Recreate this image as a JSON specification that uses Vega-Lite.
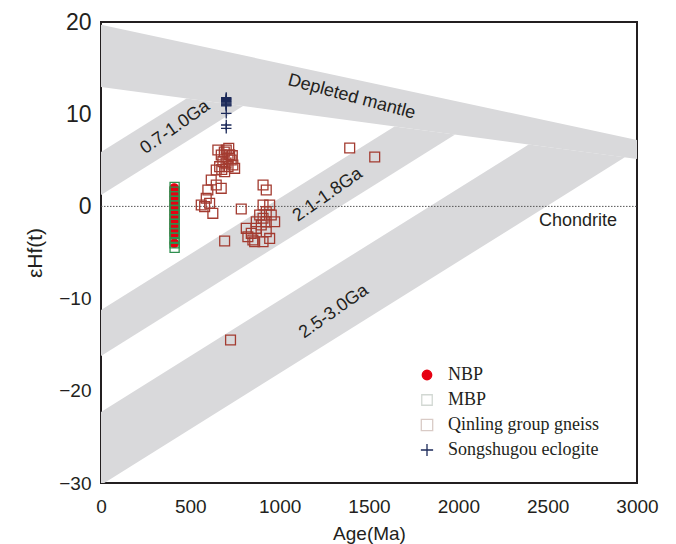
{
  "$schema": "https://vega.github.io/schema/vega-lite/v6.json",
  "width": 536,
  "height": 461,
  "autosize": {"type": "none"},
  "padding": {"left": 101, "top": 22, "right": 39, "bottom": 61},
  "background": "white",
  "config": {
    "view": {"stroke": "#231f20", "strokeWidth": 2},
    "font": "Liberation Sans",
    "axis": {"domain": false, "ticks": false, "tickSize": 0, "grid": false, "labelColor": "#231f20", "titleColor": "#231f20", "labelFont": "Liberation Sans", "titleFont": "Liberation Sans", "titleFontWeight": "normal"},
    "legend": {"orient": "none", "legendX": 317, "legendY": 344, "labelFont": "Liberation Serif", "labelFontSize": 18, "labelColor": "#231f20", "rowPadding": 7, "labelOffset": 12, "padding": 0, "symbolStrokeWidth": 1.3}
  },
  "datasets": {
    "bands": [
      {"band": "DM", "age": 0, "eps": 19.7, "eps2": 12.95},
      {"band": "DM", "age": 3000, "eps": 7.2, "eps2": 5.14},
      {"band": "B1", "age": 0, "eps": 5.9, "eps2": 1.24},
      {"band": "B1", "age": 479, "eps": 11.7, "eps2": 7.05},
      {"band": "B1", "age": 795, "eps": 10.88, "eps2": 10.88},
      {"band": "B2", "age": 0, "eps": -11.24, "eps2": -16.23},
      {"band": "B2", "age": 1643, "eps": 8.67, "eps2": 3.68},
      {"band": "B2", "age": 1982, "eps": 7.79, "eps2": 7.79},
      {"band": "B3", "age": 0, "eps": -22.3, "eps2": -30.22},
      {"band": "B3", "age": 2394, "eps": 6.72, "eps2": -1.2},
      {"band": "B3", "age": 2932, "eps": 5.32, "eps2": 5.32}
    ],
    "chondrite": [
      {"age": 0, "eps": 0},
      {"age": 3000, "eps": 0}
    ],
    "xticks": [
      {"age": 500}, {"age": 1000}, {"age": 1500}, {"age": 2000}, {"age": 2500}
    ],
    "yticks": [
      {"eps": -20}, {"eps": -10}, {"eps": 10}
    ],
    "labels": [
      {"label": "Depleted mantle", "grp": "dm", "age": 1403, "eps": 11.87},
      {"label": "0.7-1.0Ga", "grp": "band", "age": 415, "eps": 8.56},
      {"label": "2.1-1.8Ga", "grp": "band", "age": 1269, "eps": 1.24},
      {"label": "2.5-3.0Ga", "grp": "band", "age": 1303, "eps": -11.42},
      {"label": "Chondrite", "grp": "flat", "age": 2670, "eps": -1.58}
    ],
    "points": [
      {"group": "Qinling group gneiss", "age": 1392, "eps": 6.33},
      {"group": "Qinling group gneiss", "age": 1532, "eps": 5.36},
      {"group": "Qinling group gneiss", "age": 654, "eps": 6.12},
      {"group": "Qinling group gneiss", "age": 701, "eps": 6.12},
      {"group": "Qinling group gneiss", "age": 715, "eps": 6.3},
      {"group": "Qinling group gneiss", "age": 690, "eps": 5.9},
      {"group": "Qinling group gneiss", "age": 673, "eps": 5.57},
      {"group": "Qinling group gneiss", "age": 720, "eps": 5.6},
      {"group": "Qinling group gneiss", "age": 735, "eps": 5.5},
      {"group": "Qinling group gneiss", "age": 711, "eps": 5.21},
      {"group": "Qinling group gneiss", "age": 729, "eps": 5.03},
      {"group": "Qinling group gneiss", "age": 682, "eps": 4.85},
      {"group": "Qinling group gneiss", "age": 700, "eps": 4.7},
      {"group": "Qinling group gneiss", "age": 738, "eps": 4.49},
      {"group": "Qinling group gneiss", "age": 664, "eps": 4.31},
      {"group": "Qinling group gneiss", "age": 711, "eps": 4.31},
      {"group": "Qinling group gneiss", "age": 748, "eps": 4.13},
      {"group": "Qinling group gneiss", "age": 676, "eps": 4.0},
      {"group": "Qinling group gneiss", "age": 645, "eps": 3.95},
      {"group": "Qinling group gneiss", "age": 692, "eps": 3.76},
      {"group": "Qinling group gneiss", "age": 617, "eps": 2.86},
      {"group": "Qinling group gneiss", "age": 645, "eps": 2.32},
      {"group": "Qinling group gneiss", "age": 673, "eps": 1.96},
      {"group": "Qinling group gneiss", "age": 598, "eps": 1.78},
      {"group": "Qinling group gneiss", "age": 589, "eps": 0.88},
      {"group": "Qinling group gneiss", "age": 608, "eps": 0.34},
      {"group": "Qinling group gneiss", "age": 561, "eps": 0.15},
      {"group": "Qinling group gneiss", "age": 580, "eps": -0.03},
      {"group": "Qinling group gneiss", "age": 626, "eps": -0.75},
      {"group": "Qinling group gneiss", "age": 785, "eps": -0.28},
      {"group": "Qinling group gneiss", "age": 692, "eps": -3.75},
      {"group": "Qinling group gneiss", "age": 907, "eps": 2.32},
      {"group": "Qinling group gneiss", "age": 925, "eps": 1.78},
      {"group": "Qinling group gneiss", "age": 907, "eps": 0.15},
      {"group": "Qinling group gneiss", "age": 944, "eps": 0.15},
      {"group": "Qinling group gneiss", "age": 925, "eps": -0.57},
      {"group": "Qinling group gneiss", "age": 888, "eps": -0.93},
      {"group": "Qinling group gneiss", "age": 953, "eps": -0.93},
      {"group": "Qinling group gneiss", "age": 907, "eps": -1.29},
      {"group": "Qinling group gneiss", "age": 869, "eps": -1.66},
      {"group": "Qinling group gneiss", "age": 925, "eps": -1.66},
      {"group": "Qinling group gneiss", "age": 972, "eps": -1.66},
      {"group": "Qinling group gneiss", "age": 897, "eps": -2.02},
      {"group": "Qinling group gneiss", "age": 869, "eps": -2.38},
      {"group": "Qinling group gneiss", "age": 813, "eps": -2.38},
      {"group": "Qinling group gneiss", "age": 925, "eps": -2.74},
      {"group": "Qinling group gneiss", "age": 841, "eps": -2.92},
      {"group": "Qinling group gneiss", "age": 822, "eps": -3.29},
      {"group": "Qinling group gneiss", "age": 944, "eps": -3.47},
      {"group": "Qinling group gneiss", "age": 850, "eps": -3.65},
      {"group": "Qinling group gneiss", "age": 860, "eps": -3.83},
      {"group": "Qinling group gneiss", "age": 907, "eps": -3.83},
      {"group": "Qinling group gneiss", "age": 725, "eps": -14.49},
      {"group": "NBP", "age": 410, "eps": 2.0},
      {"group": "NBP", "age": 410, "eps": 1.7},
      {"group": "NBP", "age": 410, "eps": 1.4},
      {"group": "NBP", "age": 410, "eps": 1.1},
      {"group": "NBP", "age": 410, "eps": 0.8},
      {"group": "NBP", "age": 410, "eps": 0.5},
      {"group": "NBP", "age": 410, "eps": 0.2},
      {"group": "NBP", "age": 410, "eps": -0.1},
      {"group": "NBP", "age": 410, "eps": -0.4},
      {"group": "NBP", "age": 410, "eps": -0.7},
      {"group": "NBP", "age": 410, "eps": -1.0},
      {"group": "NBP", "age": 410, "eps": -1.3},
      {"group": "NBP", "age": 410, "eps": -1.6},
      {"group": "NBP", "age": 410, "eps": -1.9},
      {"group": "NBP", "age": 410, "eps": -2.2},
      {"group": "NBP", "age": 410, "eps": -2.5},
      {"group": "NBP", "age": 410, "eps": -2.8},
      {"group": "NBP", "age": 410, "eps": -3.1},
      {"group": "NBP", "age": 410, "eps": -4.0},
      {"group": "MBP", "age": 412, "eps": 2.1},
      {"group": "MBP", "age": 412, "eps": 1.6},
      {"group": "MBP", "age": 412, "eps": 1.1},
      {"group": "MBP", "age": 412, "eps": 0.6},
      {"group": "MBP", "age": 412, "eps": 0.1},
      {"group": "MBP", "age": 412, "eps": -0.4},
      {"group": "MBP", "age": 412, "eps": -0.9},
      {"group": "MBP", "age": 412, "eps": -1.4},
      {"group": "MBP", "age": 412, "eps": -1.9},
      {"group": "MBP", "age": 412, "eps": -2.4},
      {"group": "MBP", "age": 412, "eps": -2.9},
      {"group": "MBP", "age": 412, "eps": -3.4},
      {"group": "MBP", "age": 412, "eps": -4.0},
      {"group": "MBP", "age": 412, "eps": -4.5},
      {"group": "Songshugou eclogite", "age": 701, "eps": 11.8},
      {"group": "Songshugou eclogite", "age": 701, "eps": 11.7},
      {"group": "Songshugou eclogite", "age": 701, "eps": 11.6},
      {"group": "Songshugou eclogite", "age": 701, "eps": 11.5},
      {"group": "Songshugou eclogite", "age": 701, "eps": 11.4},
      {"group": "Songshugou eclogite", "age": 701, "eps": 11.3},
      {"group": "Songshugou eclogite", "age": 701, "eps": 11.2},
      {"group": "Songshugou eclogite", "age": 701, "eps": 11.1},
      {"group": "Songshugou eclogite", "age": 701, "eps": 11.0},
      {"group": "Songshugou eclogite", "age": 701, "eps": 10.9},
      {"group": "Songshugou eclogite", "age": 701, "eps": 10.1},
      {"group": "Songshugou eclogite", "age": 701, "eps": 8.83},
      {"group": "Songshugou eclogite", "age": 701, "eps": 8.47}
    ]
  },
  "encoding": {
    "x": {
      "field": "age", "type": "quantitative",
      "scale": {"domain": [0, 3000], "nice": false, "zero": false},
      "axis": {"title": "Age(Ma)", "values": [0, 500, 1000, 1500, 2000, 2500, 3000], "format": "d", "labelFontSize": 19, "titleFontSize": 19, "labelPadding": 14, "titlePadding": 8, "labelFlush": false}
    },
    "y": {
      "field": "eps", "type": "quantitative",
      "scale": {"domain": [-30, 20], "nice": false, "zero": false},
      "axis": {"title": "εHf(t)", "values": [-30, -20, -10, 0, 10, 20], "format": "d", "labelFontSize": {"condition": {"test": "datum.value >= 0", "value": 23}, "value": 19}, "titleFontSize": 21, "labelPadding": 10, "titlePadding": 13, "labelFlush": false}
    }
  },
  "layer": [
    {
      "data": {"name": "bands"},
      "mark": {"type": "area", "clip": true, "color": "#d9d9db", "opacity": 1},
      "encoding": {"y2": {"field": "eps2"}, "detail": {"field": "band", "type": "nominal"}}
    },
    {
      "data": {"name": "chondrite"},
      "mark": {"type": "line", "color": "#555555", "strokeDash": [1.5, 1.5], "strokeWidth": 1},
      "encoding": {}
    },
    {
      "data": {"name": "xticks"},
      "mark": {"type": "rule", "color": "#231f20", "strokeWidth": 1.5},
      "encoding": {"y": {"datum": -30}, "y2": {"datum": -28.6}}
    },
    {
      "data": {"name": "yticks"},
      "mark": {"type": "rule", "color": "#231f20", "strokeWidth": 1.5},
      "encoding": {"x": {"datum": 0}, "x2": {"datum": 34}}
    },
    {
      "data": {"name": "labels"},
      "transform": [{"filter": "datum.grp === 'dm'"}],
      "mark": {"type": "text", "angle": 15, "fontSize": 18, "color": "#231f20", "align": "center", "baseline": "middle"},
      "encoding": {"text": {"field": "label"}}
    },
    {
      "data": {"name": "labels"},
      "transform": [{"filter": "datum.grp === 'band'"}],
      "mark": {"type": "text", "angle": -35, "fontSize": 18, "color": "#231f20", "align": "center", "baseline": "middle"},
      "encoding": {"text": {"field": "label"}}
    },
    {
      "data": {"name": "labels"},
      "transform": [{"filter": "datum.grp === 'flat'"}],
      "mark": {"type": "text", "fontSize": 18, "color": "#231f20", "align": "center", "baseline": "middle"},
      "encoding": {"text": {"field": "label"}}
    },
    {
      "data": {"name": "points"},
      "mark": {"type": "point", "opacity": 1, "strokeWidth": 1.3},
      "encoding": {
        "fill": {"field": "group", "type": "nominal", "legend": null,
          "scale": {"domain": ["NBP", "MBP", "Qinling group gneiss", "Songshugou eclogite"], "range": ["#e60012", "transparent", "transparent", "transparent"]}},
        "stroke": {"field": "group", "type": "nominal", "legend": null,
          "scale": {"domain": ["NBP", "MBP", "Qinling group gneiss", "Songshugou eclogite"], "range": ["#e60012", "#2f8f4f", "#a33b30", "#1c2a5a"]}},
        "shape": {"field": "group", "type": "nominal", "legend": null,
          "scale": {"domain": ["NBP", "MBP", "Qinling group gneiss", "Songshugou eclogite"], "range": ["circle", "square", "square", "M-1,0H1M0,-1V1"]}},
        "size": {"field": "group", "type": "nominal", "legend": null,
          "scale": {"domain": ["NBP", "MBP", "Qinling group gneiss", "Songshugou eclogite"], "range": [70, 110, 170, 250]}}
      }
    },
    {
      "data": {"name": "points"},
      "transform": [{"filter": "false"}],
      "mark": {"type": "point", "opacity": 1, "strokeWidth": 1.5},
      "encoding": {
        "fill": {"field": "group", "type": "nominal", "title": null,
          "scale": {"domain": ["NBP", "MBP", "Qinling group gneiss", "Songshugou eclogite"], "range": ["#e60012", "transparent", "transparent", "transparent"]}},
        "stroke": {"field": "group", "type": "nominal", "title": null,
          "scale": {"domain": ["NBP", "MBP", "Qinling group gneiss", "Songshugou eclogite"], "range": ["#e60012", "#d2d8d3", "#d9cbc6", "#1c2a5a"]}},
        "shape": {"field": "group", "type": "nominal", "title": null,
          "scale": {"domain": ["NBP", "MBP", "Qinling group gneiss", "Songshugou eclogite"], "range": ["circle", "square", "square", "M-1,0H1M0,-1V1"]}},
        "size": {"field": "group", "type": "nominal", "title": null,
          "scale": {"domain": ["NBP", "MBP", "Qinling group gneiss", "Songshugou eclogite"], "range": [90, 150, 150, 120]}}
      }
    }
  ],
  "resolve": {
    "scale": {"fill": "independent", "stroke": "independent", "shape": "independent", "size": "independent"}
  }
}
